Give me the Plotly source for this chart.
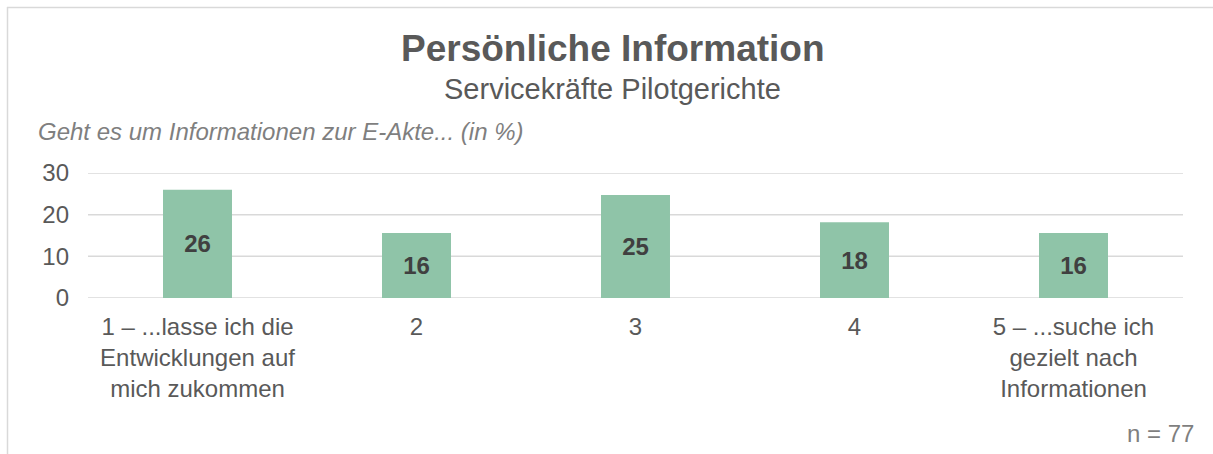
import plotly.graph_objects as go

categories = ["1 – ...lasse ich die<br>Entwicklungen auf<br>mich zukommen", "2", "3", "4",
              "5 – ...suche ich<br>gezielt nach<br>Informationen"]
values = [26.0, 15.6, 24.7, 18.2, 15.6]
labels = ["26", "16", "25", "18", "16"]
y_ticks = [0, 10, 20, 30]

FONT = "Liberation Sans, Arial"

fig = go.Figure()
fig.add_trace(go.Bar(
    x=categories, y=values, text=labels,
    textposition="inside", insidetextanchor="middle",
    textfont=dict(family=FONT, size=24, color="#404040", weight="bold"),
    marker=dict(color="#8fc4a8", line=dict(width=0)),
    cliponaxis=False, hoverinfo="skip",
))

fig.update_layout(
    width=1213, height=454,
    margin=dict(l=88, r=30, t=173, b=156),
    paper_bgcolor="white", plot_bgcolor="white",
    bargap=0.685, showlegend=False,
    font=dict(family=FONT, color="#595959"),
    xaxis=dict(showgrid=False, ticks="", showline=False, zeroline=False, ticklabelstandoff=12,
               tickfont=dict(size=24, color="#595959")),
    yaxis=dict(range=[0, 30], tickvals=y_ticks, showgrid=False,
               zeroline=False, showline=False, ticks="", ticklabelstandoff=18,
               tickfont=dict(size=24, color="#595959")),
)

# horizontal gridlines at every tick (including the range ends)
for t in y_ticks:
    fig.add_shape(type="line", xref="paper", yref="y", x0=0, x1=1, y0=t, y1=t,
                  line=dict(color="#d9d9d9", width=1.5), layer="below")

H = 454 - 173 - 156
W = 1213 - 88 - 30

def py(pix):
    return (454 - 156 - pix) / H

def px(pix):
    return (pix - 88) / W

fig.add_annotation(text="<b>Persönliche Information</b>", x=px(613), y=py(48), xref="paper", yref="paper",
                   showarrow=False, font=dict(size=37, color="#595959"), xanchor="center", yanchor="middle")
fig.add_annotation(text="Servicekräfte Pilotgerichte", x=px(612), y=py(89), xref="paper", yref="paper",
                   showarrow=False, font=dict(size=29, color="#595959"), xanchor="center", yanchor="middle")
fig.add_annotation(text="<i>Geht es um Informationen zur E-Akte... (in %)</i>", x=px(36), y=py(131),
                   xref="paper", yref="paper", showarrow=False, font=dict(size=24, color="#7f7f7f"),
                   xanchor="left", yanchor="middle")
fig.add_annotation(text="n = 77", x=px(1196), y=py(433), xref="paper", yref="paper",
                   showarrow=False, font=dict(size=24, color="#7f7f7f"), xanchor="right", yanchor="middle")

fig.add_shape(type="line", xref="paper", yref="paper", x0=px(7), x1=px(1213), y0=py(7.5), y1=py(7.5),
              line=dict(color="#d9d9d9", width=1.5))
fig.add_shape(type="line", xref="paper", yref="paper", x0=px(7.5), x1=px(7.5), y0=py(7), y1=py(454),
              line=dict(color="#d9d9d9", width=1.5))

fig.write_html("out.html", config={"displayModeBar": False},
               post_script="document.body.style.margin='0';document.body.style.overflow='hidden';")
